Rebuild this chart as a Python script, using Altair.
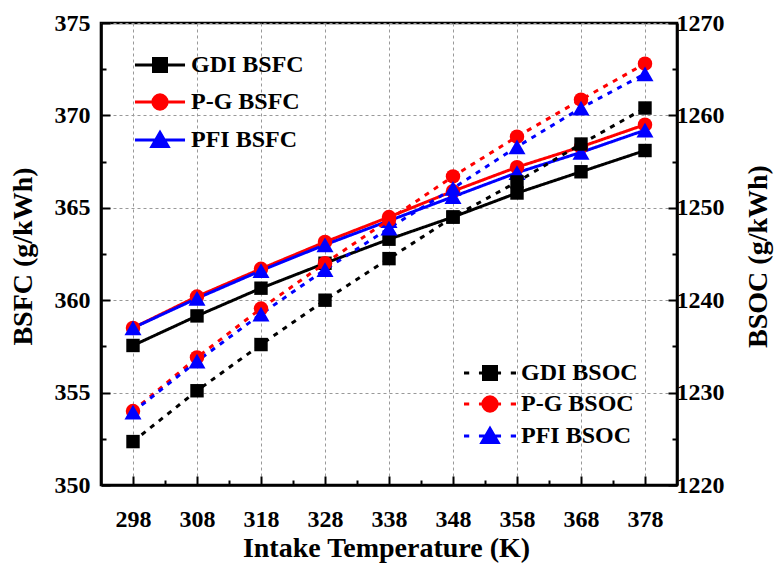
import altair as alt
import pandas as pd

# ---- data ----
temps = [298, 308, 318, 328, 338, 348, 358, 368, 378]
gdi_bsfc = [357.55, 359.15, 360.65, 362.0, 363.3, 364.5, 365.8, 366.95, 368.1]
pg_bsfc = [358.5, 360.2, 361.7, 363.15, 364.5, 365.9, 367.2, 368.3, 369.5]
pfi_bsfc = [358.5, 360.1, 361.6, 363.0, 364.3, 365.6, 366.9, 368.0, 369.2]
gdi_bsoc = [1224.7, 1230.2, 1235.2, 1240.0, 1244.5, 1249.0, 1252.8, 1256.9, 1260.8]
pg_bsoc = [1228.0, 1233.8, 1239.1, 1244.0, 1248.7, 1253.4, 1257.7, 1261.7, 1265.6]
pfi_bsoc = [1227.9, 1233.4, 1238.5, 1243.3, 1247.8, 1252.1, 1256.6, 1260.8, 1264.5]

bsfc_names = ["GDI BSFC", "P-G BSFC", "PFI BSFC"]
bsoc_names = ["GDI BSOC", "P-G BSOC", "PFI BSOC"]

x_ticks = [298, 303, 308, 313, 318, 323, 328, 333, 338, 343, 348, 353, 358, 363, 368, 373, 378]
yl_ticks = [350, 352.5, 355, 357.5, 360, 362.5, 365, 367.5, 370, 372.5, 375]
yr_ticks = [1220, 1225, 1230, 1235, 1240, 1245, 1250, 1255, 1260, 1265, 1270]


def long(names, series):
    rows = []
    for n, vals in zip(names, series):
        for t, v in zip(temps, vals):
            rows.append({"T": t, "value": v, "series": n})
    return pd.DataFrame(rows)


df_fc = long(bsfc_names, [gdi_bsfc, pg_bsfc, pfi_bsfc])
df_oc = long(bsoc_names, [gdi_bsoc, pg_bsoc, pfi_bsoc])

colors = ["#000000", "#ff0000", "#0000ff"]
marker_kinds = [("square", 180), ("circle", 210), ("triangle-up", 290)]

FONT = "Liberation Serif, Times New Roman, serif"

# legend symbols: line + marker drawn as one path
sq = "M -1 -1 H 1 V 1 H -1 Z"
ci = "M -1.1 0 A 1.1 1.1 0 1 0 1.1 0 A 1.1 1.1 0 1 0 -1.1 0 Z"
tr = "M 0 -1.15 L 1.25 1 L -1.25 1 Z"
solid = "M -3.85 0 H 3.85 "
dotted = "M -4 0 H -3.2 M -1.7 0 H 1.7 M 3.2 0 H 4 "
fc_paths = [solid + sq, solid + ci, solid + tr]
oc_paths = [dotted + sq, dotted + ci, dotted + tr]

lab = dict(labelFont=FONT, labelFontSize=24, labelFontWeight="bold", labelColor="black",
           titleFont=FONT, titleFontSize=28, titleFontWeight="bold", titleColor="black")

x_axis = alt.Axis(
    values=x_ticks,
    title="Intake Temperature (K)",
    format="d",
    labelExpr="datum.value % 10 == 8 ? datum.label : ''",
    tickSize={"condition": {"test": "datum.value % 10 == 8", "value": -9}, "value": -5},
    gridOpacity={"condition": {"test": "datum.value % 10 == 8", "value": 1}, "value": 0},
    grid=True,
    labelPadding=31,
    titleX=285, titleY=63, titleBaseline="middle", titleAlign="center",
    **lab,
)

yl_axis = alt.Axis(
    orient="left",
    values=yl_ticks,
    title="BSFC (g/kWh)",
    format="d",
    labelExpr="datum.value % 5 == 0 ? datum.label : ''",
    tickSize={"condition": {"test": "datum.value % 5 == 0", "value": -9}, "value": -5},
    gridOpacity={"condition": {"test": "datum.value % 5 == 0", "value": 1}, "value": 0},
    grid=True,
    labelPadding=20,
    titleX=-78, titleY=233, titleAngle=270, titleBaseline="middle", titleAlign="center",
    **lab,
)

yr_axis = alt.Axis(
    orient="right",
    values=yr_ticks,
    title="BSOC (g/kWh)",
    format="d",
    labelExpr="datum.value % 10 == 0 ? datum.label : ''",
    tickSize={"condition": {"test": "datum.value % 10 == 0", "value": -9}, "value": -5},
    grid=False,
    labelPadding=8,
    titleX=81, titleY=233, titleAngle=270, titleBaseline="middle", titleAlign="center",
    **lab,
)

x_enc = alt.X("T:Q", scale=alt.Scale(domain=[293, 383], nice=False, zero=False), axis=x_axis)


def side(df, names, y_enc, dash, paths, legend):
    layers = []
    for name, col in zip(names, colors):
        layers.append(
            alt.Chart(df).transform_filter(alt.datum.series == name)
            .mark_line(strokeWidth=3, strokeDash=dash, color=col)
            .encode(x=x_enc, y=y_enc)
        )
    for name, col, (shp, sz) in zip(names, colors, marker_kinds):
        layers.append(
            alt.Chart(df).transform_filter(alt.datum.series == name)
            .mark_point(filled=True, opacity=1, shape=shp, size=sz, color=col)
            .encode(x=x_enc, y=y_enc)
        )
    layers.append(
        alt.Chart(df).transform_filter("false").mark_point(filled=True, opacity=1).encode(
            fill=alt.Fill("series:N", scale=alt.Scale(domain=names, range=colors), legend=legend),
            stroke=alt.Stroke("series:N", scale=alt.Scale(domain=names, range=colors), legend=legend),
            shape=alt.Shape("series:N", scale=alt.Scale(domain=names, range=paths), legend=legend),
        )
    )
    return alt.layer(*layers)


leg_fc = alt.Legend(title=None, orient="none", legendX=47, legendY=30, rowPadding=10,
                    symbolSize=169, symbolStrokeWidth=3, labelOffset=19, padding=0,
                    symbolOpacity=1)
leg_oc = alt.Legend(title=None, orient="none", legendX=377, legendY=338, rowPadding=4,
                    symbolSize=169, symbolStrokeWidth=3, labelOffset=19, padding=0,
                    symbolOpacity=1)

y_fc = alt.Y("value:Q", scale=alt.Scale(domain=[350, 375], nice=False, zero=False), axis=yl_axis)
y_oc = alt.Y("value:Q", scale=alt.Scale(domain=[1220, 1270], nice=False, zero=False), axis=yr_axis)

left = side(df_fc, bsfc_names, y_fc, [1, 0], fc_paths, leg_fc)
right = side(df_oc, bsoc_names, y_oc, [5, 6], oc_paths, leg_oc)

chart = alt.layer(left, right).resolve_scale(
    y="independent", shape="independent", fill="independent", stroke="independent",
).properties(
    width=576, height=462,
    autosize=alt.AutoSizeParams(type="none"),
    padding={"left": 101, "top": 23, "right": 105, "bottom": 78},
    background="white",
).configure(font=FONT).configure_view(
    stroke="black", strokeWidth=2.6
).configure_axis(
    domainColor="black", domainWidth=2.6, tickColor="black", tickWidth=2,
    gridColor="#999999", gridDash=[3, 3], gridWidth=1,
    labelFont=FONT, titleFont=FONT,
).configure_legend(
    labelFont=FONT, labelFontSize=24, labelFontWeight="bold", labelColor="black",
    labelLimit=300,
)

chart.save("out.html", embed_options={"renderer": "svg", "actions": False})
